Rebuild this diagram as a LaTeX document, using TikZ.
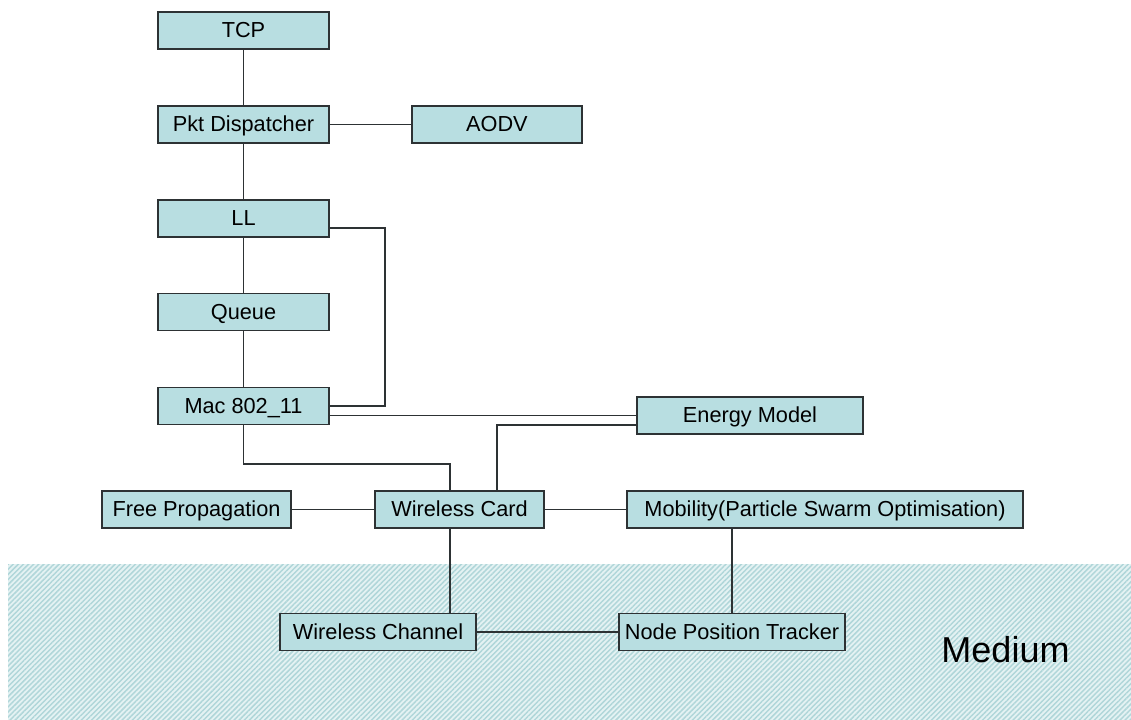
\documentclass[tikz,border=0pt]{standalone}
\usepackage{fontspec}
\setmainfont{Liberation Sans}
\usepackage{tikz}
\usetikzlibrary{positioning,patterns.meta}
\definecolor{boxfill}{RGB}{184,222,225}
\definecolor{edgegray}{RGB}{45,50,52}
\definecolor{mediumbg}{RGB}{228,242,243}
\definecolor{mediumline}{RGB}{176,214,217}
\tikzset{
  blk/.style={rectangle,draw=edgegray,fill=boxfill,line width=1.2pt,minimum width=#1,
    minimum height=27.75pt,inner sep=1pt,text height=11.6pt,text depth=0.6pt,
    font=\fontsize{16.3}{18}\selectfont},
  blk/.default=128.25pt,
  lnk/.style={line width=1.2pt,color=edgegray},
  medium/.style={pattern={Lines[angle=45,distance=2.7pt,line width=1.1pt]},pattern color=mediumline}
}

\begin{document}
\begin{tikzpicture}[x=0.75pt,y=-0.75pt,node distance=41.45pt]
    \useasboundingbox (0,0) rectangle (1131,720);
    % medium band
    \fill[mediumbg] (8,564) rectangle (1131,720);
    \fill[medium] (8,564) rectangle (1131,720);
    \node[font=\fontsize{27}{30}\selectfont,anchor=base] (mediumlbl) at (1005.5,662) {Medium};

    \node[blk] (tcp) at (243.5,30.5) {TCP};
    \node[blk,below=of tcp] (pkt) {Pkt Dispatcher};
    \node[blk=127.5pt,right=61pt of pkt] (aodv) {AODV};
    \node[blk,below=of pkt] (ll) {LL};
    \node[blk,below=of ll] (queue) {Queue};
    \node[blk,below=of queue] (mac) {Mac 802\_11};
    \node[blk=169.5pt] (energy) at (750,415.5) {Energy Model};
    \node[blk=141.75pt] (freeprop) at (196.5,509.5) {Free Propagation};
    \node[blk=126.75pt] (wcard) at (459.5,509.5) {Wireless Card};
    \node[blk=297pt] (mobility) at (825,509.5) {Mobility(Particle Swarm Optimisation)};
    \node[blk=147pt] (wchannel) at (378,632) {Wireless Channel};
    \node[blk=169.5pt] (tracker) at (732,632) {Node Position Tracker};

    \draw[lnk] (tcp) -- (pkt);
    \draw[lnk] (pkt) -- (aodv);
    \draw[lnk] (pkt) -- (ll);
    \draw[lnk] (ll) -- (queue);
    \draw[lnk] (queue) -- (mac);
    \draw[lnk] ([yshift=-7.5pt]ll.east) -- ++(41.25pt,0pt) |- (mac.east);
    \draw[lnk] (mac.east |- energy.west) -- (energy.west);
    \draw[lnk] ([yshift=-7pt]energy.west) -| ([xshift=28pt]wcard.north);
    \draw[lnk] (mac.south) -- ++(0pt,-29.25pt) -| ([xshift=-7pt]wcard.north);
    \draw[lnk] (freeprop) -- (wcard);
    \draw[lnk] (wcard) -- (mobility);
    \draw[lnk] ([xshift=-7pt]wcard.south) -- ([xshift=-7pt]wcard.south |- wchannel.north);
    \draw[lnk] (tracker.north) -- (tracker.north |- mobility.south);
    \draw[lnk] (wchannel) -- (tracker);
  \end{tikzpicture}
\end{document}
